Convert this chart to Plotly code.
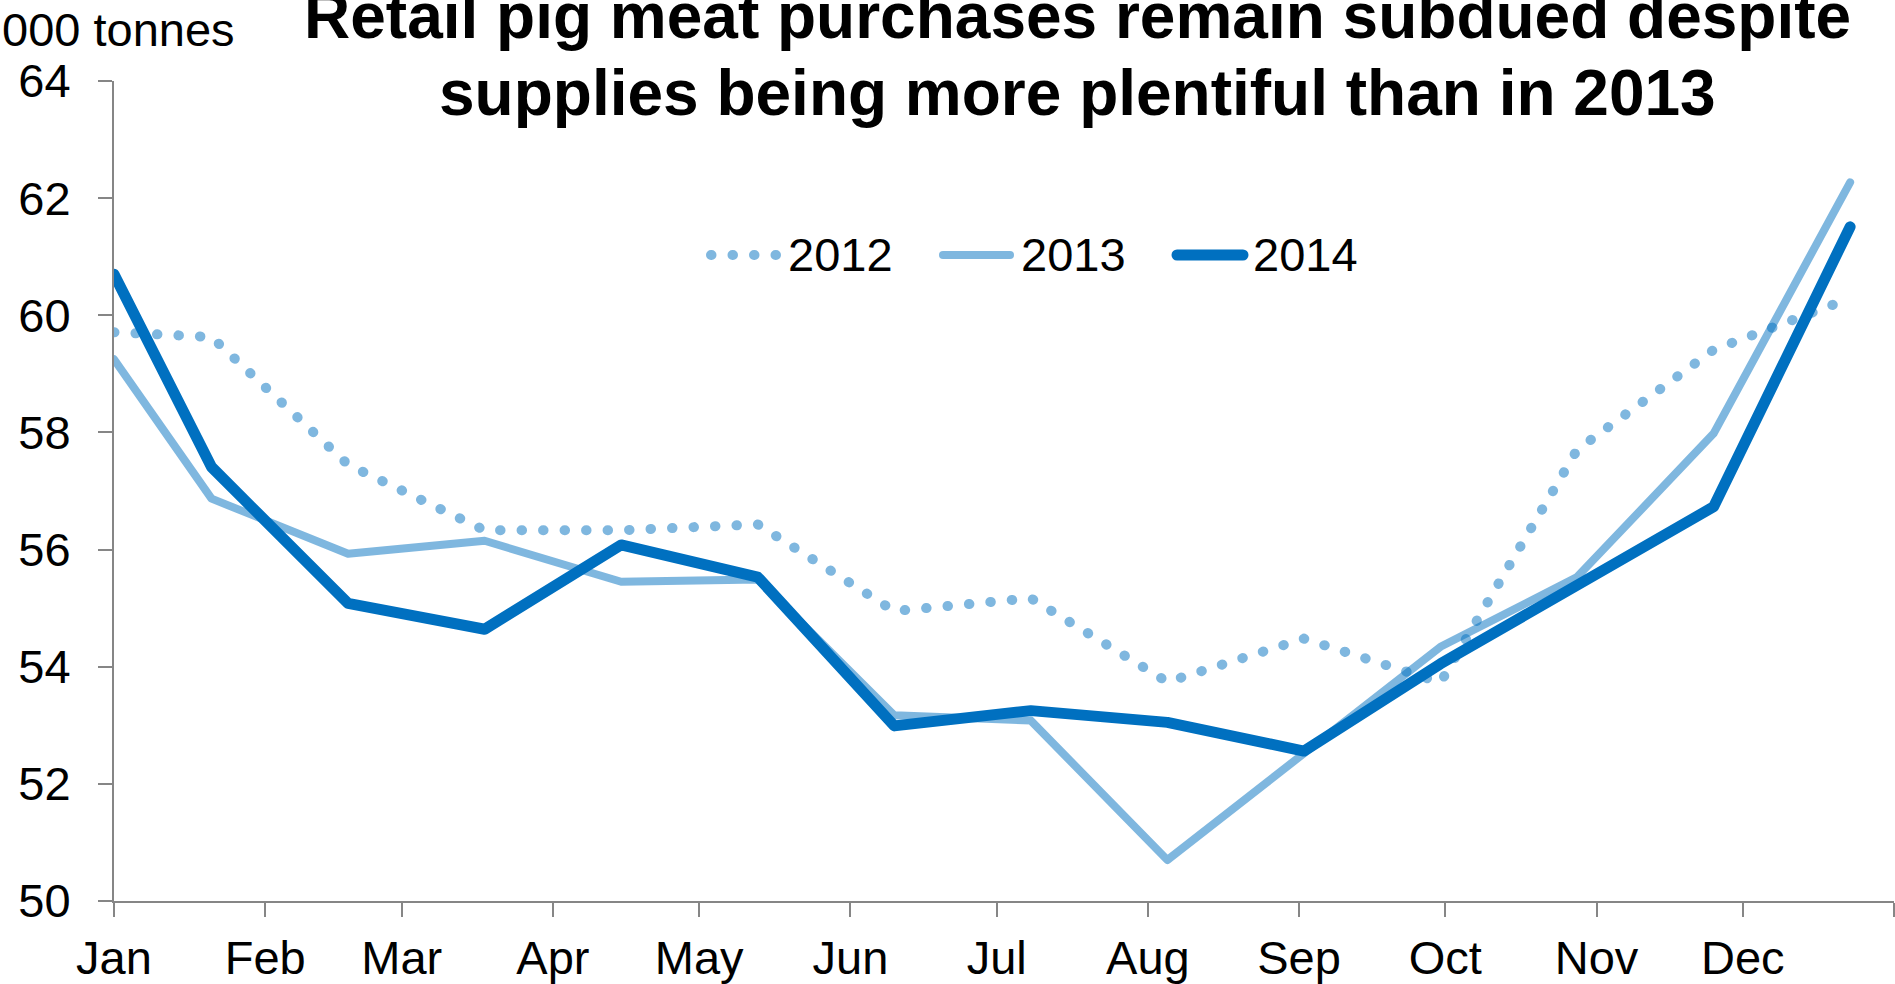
import plotly.graph_objects as go

# Four-weekly retail pig meat purchases ('000 tonnes), plotted on a common calendar year
period_dates = [
    "2014-01-01", "2014-01-21", "2014-02-18", "2014-03-18", "2014-04-15",
    "2014-05-13", "2014-06-10", "2014-07-08", "2014-08-05", "2014-09-02",
    "2014-09-30", "2014-10-28", "2014-11-25", "2014-12-23",
]
purchases_2012 = [59.71, 59.63, 57.45, 56.33, 56.33, 56.43, 54.95, 55.17,
                  53.74, 54.48, 53.73, 57.70, 59.41, 60.29]
purchases_2013 = [59.25, 56.87, 55.93, 56.15, 55.45, 55.49, 53.17, 53.08,
                  50.70, 52.52, 54.34, 55.53, 57.98, 62.27]
purchases_2014 = [60.70, 57.41, 55.08, 54.64, 56.08, 55.53, 52.99, 53.25,
                  53.05, 52.56, 54.05, 55.41, 56.73, 61.51]

month_starts = ["2014-01-01", "2014-02-01", "2014-03-01", "2014-04-01",
                "2014-05-01", "2014-06-01", "2014-07-01", "2014-08-01",
                "2014-09-01", "2014-10-01", "2014-11-01", "2014-12-01",
                "2015-01-01"]
month_labels = ["Jan", "Feb", "Mar", "Apr", "May", "Jun", "Jul", "Aug",
                "Sep", "Oct", "Nov", "Dec", ""]

y_ticks = [50, 52, 54, 56, 58, 60, 62, 64]

FONT = "Liberation Sans, Arial, sans-serif"
DARK = "#0070C0"
LIGHT = "rgba(0,112,192,0.5)"
AXIS = "#868686"
DOTS = "0.5px,21px"

W, H = 1895, 984
ML, MR, MT, MB = 114, 1, 81, 83
PW, PH = W - ML - MR, H - MT - MB


def px_x(x):
    return (x - ML) / PW


def px_y(y):
    return (H - MB - y) / PH


series = [
    ("2012", purchases_2012, LIGHT, 10, DOTS),
    ("2013", purchases_2013, LIGHT, 8, "solid"),
    ("2014", purchases_2014, DARK, 11, "solid"),
]

fig = go.Figure()
for name, values, color, width, dash in series:
    fig.add_trace(go.Scatter(
        x=period_dates, y=values, name=name, mode="lines",
        line=dict(color=color, width=width, dash=dash),
        showlegend=False,
    ))

# Legend row drawn inside the plot area
legend_items = [
    ("2012", LIGHT, 10, DOTS, 711, 776, 786),
    ("2013", LIGHT, 8, "solid", 943, 1010, 1019),
    ("2014", DARK, 11, "solid", 1177, 1243, 1251),
]
legend_y = 255
shapes = []
annotations = []
for name, color, width, dash, x0, x1, tx in legend_items:
    shapes.append(dict(
        type="line", xref="paper", yref="paper",
        x0=px_x(x0), x1=px_x(x1), y0=px_y(legend_y), y1=px_y(legend_y),
        line=dict(color=color, width=width, dash=dash),
    ))
    annotations.append(dict(
        text=name, xref="paper", yref="paper", x=px_x(tx), y=px_y(legend_y),
        xanchor="left", yanchor="middle", showarrow=False,
        font=dict(family=FONT, size=47, color="black"),
    ))

# Two-line title
title_lines = [
    ("Retail pig meat purchases remain subdued despite", 38),
    ("supplies being more plentiful than in 2013", 115),
]
for text, baseline in title_lines:
    annotations.append(dict(
        text="<b>" + text + "</b>", xref="paper", yref="paper",
        x=px_x(1077.5), y=px_y(baseline - 0.3465 * 64),
        xanchor="center", yanchor="middle", showarrow=False,
        font=dict(family=FONT, size=64, color="black"),
    ))

# Units label above the value axis
annotations.append(dict(
    text="000 tonnes", xref="paper", yref="paper",
    x=px_x(0), y=px_y(45.5 - 0.3465 * 47),
    xanchor="left", yanchor="middle", showarrow=False,
    font=dict(family=FONT, size=47, color="black"),
))

fig.update_layout(
    width=W, height=H,
    margin=dict(l=ML, r=MR, t=MT, b=MB),
    paper_bgcolor="white", plot_bgcolor="white",
    font=dict(family=FONT, size=47, color="black"),
    shapes=shapes, annotations=annotations,
    showlegend=False,
)
fig.update_xaxes(
    type="date", range=["2014-01-01", "2015-01-01"],
    tickmode="array", tickvals=month_starts, ticktext=month_labels,
    ticks="outside", ticklen=14, tickwidth=2, tickcolor=AXIS,
    showline=True, linecolor=AXIS, linewidth=2,
    showgrid=False, zeroline=False, ticklabelstandoff=1,
    automargin=False,
    tickfont=dict(family=FONT, size=47, color="black"),
)
fig.update_yaxes(
    range=[50, 64], tickmode="array", tickvals=y_ticks,
    ticks="outside", ticklen=14, tickwidth=2, tickcolor=AXIS,
    showline=True, linecolor=AXIS, linewidth=2,
    showgrid=False, zeroline=False, ticklabelstandoff=18,
    automargin=False,
    tickfont=dict(family=FONT, size=47, color="black"),
)

# Rounded line ends and joins, so the dotted series draws as round dots
round_caps = (
    "var s=document.createElement('style');"
    "s.textContent='.js-line,.shapelayer path{stroke-linecap:round !important;"
    "stroke-linejoin:round !important;}';"
    "document.head.appendChild(s);"
)

fig.write_html("out.html", post_script=round_caps)
